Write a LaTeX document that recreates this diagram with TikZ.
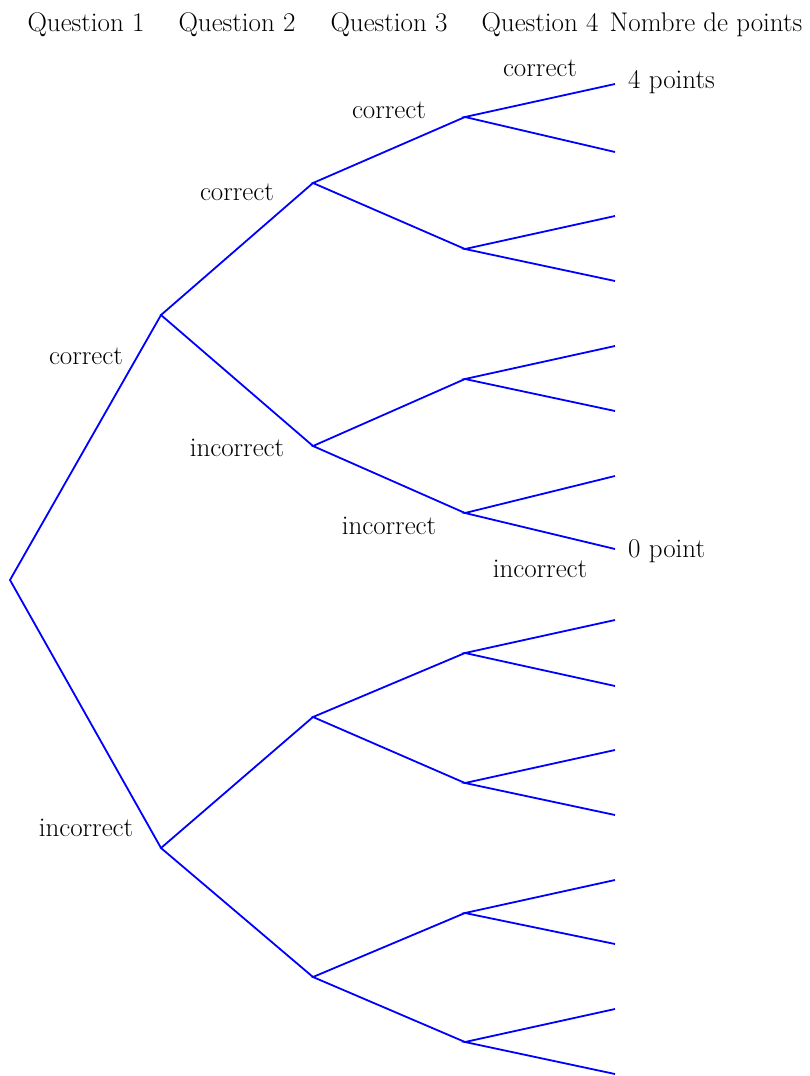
\documentclass[tikz,border=0pt]{standalone}
\begin{document}
\begin{tikzpicture}[x=1pt,y=-1pt,
  branch/.style={draw=blue,line width=1.8pt},
  lbl/.style={font=\fontsize{27}{31}\selectfont,inner sep=0pt},
  leaf/.style={font=\fontsize{27}{31}\selectfont,inner sep=0pt,anchor=west}]
\useasboundingbox (0,0) rectangle (810,1076);
% tree points
\coordinate (R) at (10,580);
\coordinate (A1) at (161,315);
\coordinate (A2) at (161,848);
\coordinate (B1) at (313,183);
\coordinate (B2) at (313,446);
\coordinate (B3) at (313,717);
\coordinate (B4) at (313,977);
\foreach \i/\y in {1/117,2/249,3/379,4/513,5/653,6/783,7/913,8/1042}
  \coordinate (C\i) at (465,\y);
\foreach \i/\y in {1/84,2/152,3/216,4/281,5/346,6/411,7/476,8/549,9/620,10/686,11/750,12/815,13/880,14/944,15/1009,16/1074}
  \coordinate (L\i) at (615,\y);
% branches
\draw[branch] (A1) -- (R) -- (A2);
\draw[branch] (B1) -- (A1) -- (B2);
\draw[branch] (B3) -- (A2) -- (B4);
\draw[branch] (C1) -- (B1) -- (C2);
\draw[branch] (C3) -- (B2) -- (C4);
\draw[branch] (C5) -- (B3) -- (C6);
\draw[branch] (C7) -- (B4) -- (C8);
\foreach \c/\a/\b in {1/1/2,2/3/4,3/5/6,4/7/8,5/9/10,6/11/12,7/13/14,8/15/16}
  \draw[branch] (L\a) -- (C\c) -- (L\b);
% headers
\node[lbl] (h1) at (86,25) {Question 1};
\node[lbl] (h2) at (237,25) {Question 2};
\node[lbl] (h3) at (389,25) {Question 3};
\node[lbl] (h4) at (540,25) {Question 4};
\node[lbl] (h5) at (706,25) {Nombre de points};
% branch labels
\node[lbl] (t1) at (86,356) {correct};
\node[lbl] (t2) at (86,828) {incorrect};
\node[lbl] (t3) at (237,192) {correct};
\node[lbl] (t4) at (237,448) {incorrect};
\node[lbl] (t5) at (389,110) {correct};
\node[lbl] (t6) at (389,526) {incorrect};
\node[lbl] (t7) at (540,68) {correct};
\node[lbl] (t8) at (540,569) {incorrect};
\node[leaf] (p4) at (628,82) {4 points};
\node[leaf] (p0) at (628,551) {0 point};
\end{tikzpicture}
\end{document}
